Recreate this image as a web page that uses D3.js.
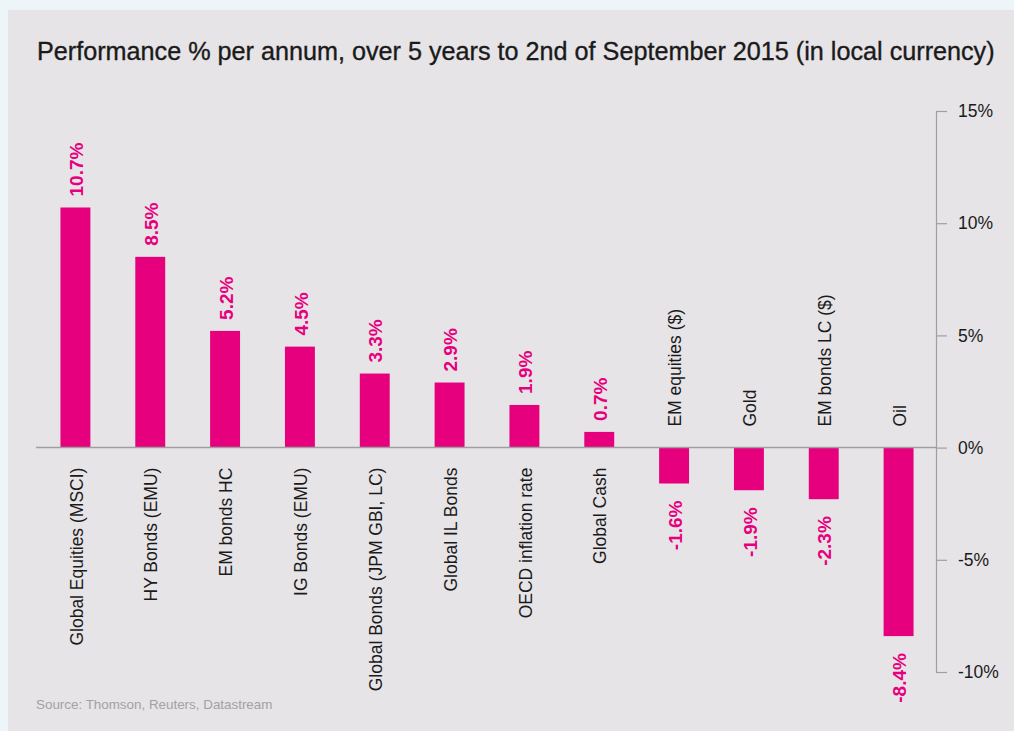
<!DOCTYPE html>
<html>
<head>
<meta charset="utf-8">
<script src="https://cdn.jsdelivr.net/npm/d3@7"></script>
<style>
  html, body { margin: 0; padding: 0; background: #edf5f8; }
  svg { display: block; font-family: "Liberation Sans", Arial, Helvetica, sans-serif; }
</style>
</head>
<body>
<div id="chart"></div>
<script>
const categories = ['Global Equities (MSCI)', 'HY Bonds (EMU)', 'EM bonds HC', 'IG Bonds (EMU)',
  'Global Bonds (JPM GBI, LC)', 'Global IL Bonds', 'OECD inflation rate', 'Global Cash',
  'EM equities ($)', 'Gold', 'EM bonds LC ($)', 'Oil'];
const values = [10.7, 8.5, 5.2, 4.5, 3.3, 2.9, 1.9, 0.7, -1.6, -1.9, -2.3, -8.4];
const tickValues = [15, 10, 5, 0, -5, -10];

const width = 1014,
  height = 731;

const pink = '#e6007e';

const svg = d3.select('#chart').append('svg')
  .attr('width', width)
  .attr('height', height);

// panel
svg.append('rect')
  .attr('x', 8).attr('y', 10)
  .attr('width', width - 8).attr('height', height - 10)
  .attr('fill', '#e6e4e7');

svg.append('text')
  .attr('x', 37).attr('y', 60)
  .attr('font-size', 25.2)
  .attr('fill', '#1a1a1a')
  .attr('stroke', '#1a1a1a')
  .attr('stroke-width', 0.35)
  .text('Performance % per annum, over 5 years to 2nd of September 2015 (in local currency)');

const x = d3.scaleBand()
  .domain(categories)
  .range([38, 936])
  .paddingInner(0.6)
  .paddingOuter(0.3);

const y = d3.scaleLinear()
  .domain([-10, 15])
  .range([672, 111]);

const data = categories.map((c, i) => ({ name: c, value: values[i] }));

// right axis
const axis = svg.append('g')
  .attr('transform', 'translate(936,0)')
  .call(d3.axisRight(y)
    .tickValues(tickValues)
    .tickSize(11)
    .tickPadding(11)
    .tickFormat(d => d + '%'));
axis.select('.domain').attr('stroke', '#a09e9f').attr('stroke-width', 1.2);
axis.selectAll('.tick line').attr('stroke', '#a09e9f').attr('stroke-width', 1.2);
axis.selectAll('.tick text')
  .attr('font-size', 17.5)
  .attr('fill', '#1a1a1a')
  .attr('font-family', '"Liberation Sans", Arial, sans-serif');

// bars
svg.selectAll('.bar')
  .data(data)
  .enter().append('rect')
  .attr('class', 'bar')
  .attr('x', d => x(d.name))
  .attr('width', x.bandwidth())
  .attr('y', d => y(Math.max(0, d.value)))
  .attr('height', d => Math.abs(y(d.value) - y(0)))
  .attr('fill', pink);

// zero line
svg.append('line')
  .attr('x1', 36).attr('x2', 936)
  .attr('y1', y(0)).attr('y2', y(0))
  .attr('stroke', '#a09e9f')
  .attr('stroke-width', 1.5);

// category labels
svg.selectAll('.cat')
  .data(data)
  .enter().append('text')
  .attr('class', 'cat')
  .attr('transform', d => {
    const cx = x(d.name) + x.bandwidth() / 2 + 1;
    const cy = d.value >= 0 ? y(0) + 20 : y(0) - 21;
    return 'translate(' + cx + ',' + cy + ') rotate(-90)';
  })
  .attr('dy', '0.35em')
  .attr('text-anchor', d => d.value >= 0 ? 'end' : 'start')
  .attr('font-size', 17.5)
  .attr('fill', '#1a1a1a')
  .text(d => d.name);

// value labels
svg.selectAll('.val')
  .data(data)
  .enter().append('text')
  .attr('class', 'val')
  .attr('transform', d => {
    const cx = x(d.name) + x.bandwidth() / 2 + 1;
    const cy = d.value >= 0 ? y(d.value) - 11 : y(d.value) + 17;
    return 'translate(' + cx + ',' + cy + ') rotate(-90)';
  })
  .attr('dy', '0.35em')
  .attr('text-anchor', d => d.value >= 0 ? 'start' : 'end')
  .attr('font-size', 19)
  .attr('font-weight', 'bold')
  .attr('fill', pink)
  .text(d => d.value.toFixed(1) + '%');

svg.append('text')
  .attr('x', 36).attr('y', 709)
  .attr('font-size', 13.4)
  .attr('fill', '#a3a1a3')
  .text('Source: Thomson, Reuters, Datastream');
</script>
</body>
</html>
